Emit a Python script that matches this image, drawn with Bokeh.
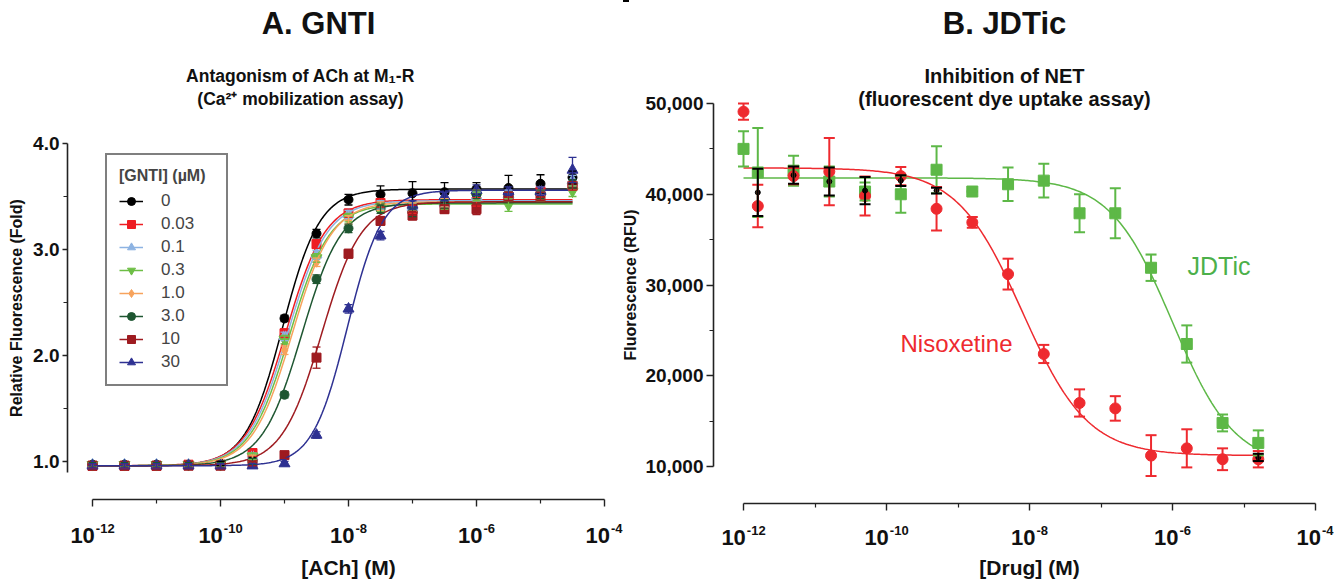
import numpy as np
from bokeh.plotting import figure
from bokeh.models import (Range1d, FixedTicker, CustomJSTickFormatter, NumeralTickFormatter,
                          PrintfTickFormatter, Label, Legend, LegendItem, Whisker,
                          ColumnDataSource, TeeHead)
from bokeh.layouts import row
from bokeh.embed import file_html
from bokeh.resources import INLINE

FONT = "Liberation Sans"

# ---------------- Panel A: GNTI antagonism of ACh ----------------
ach_log = [-12.0, -11.5, -11.0, -10.5, -10.0, -9.5, -9.0, -8.5, -8.0, -7.5,
           -7.0, -6.5, -6.0, -5.5, -5.0, -4.5]
gnti_labels = ["0", "0.03", "0.1", "0.3", "1.0", "3.0", "10", "30"]
gnti_colors = ["#000000", "#EE1D23", "#8DB3E2", "#6DBE45", "#F7A35C", "#1E5631", "#9E1B20", "#2E3192"]
gnti_markers = ["circle", "square", "triangle", "inverted_triangle", "diamond", "circle", "square", "triangle"]

resp_0 = [0.97, 0.97, 0.97, 0.97, 0.98, 1.02, 2.35, 3.15, 3.47, 3.52, 3.53, 3.54, 3.57, 3.58, 3.62, 3.68]
resp_003 = [0.96, 0.96, 0.96, 0.97, 0.97, 1.08, 2.21, 3.05, 3.34, 3.44, 3.38, 3.44, 3.45, 3.50, 3.55, 3.60]
resp_01 = [0.97, 0.97, 0.97, 0.97, 0.97, 1.05, 2.18, 2.95, 3.33, 3.42, 3.40, 3.44, 3.50, 3.52, 3.55, 3.65]
resp_03 = [0.97, 0.97, 0.97, 0.97, 0.97, 1.05, 2.15, 2.92, 3.30, 3.40, 3.40, 3.42, 3.50, 3.42, 3.50, 3.55]
resp_1 = [0.97, 0.97, 0.97, 0.97, 0.97, 1.03, 2.05, 2.88, 3.28, 3.41, 3.40, 3.44, 3.52, 3.50, 3.52, 3.60]
resp_3 = [0.97, 0.97, 0.97, 0.97, 0.97, 1.00, 1.63, 2.72, 3.20, 3.38, 3.35, 3.43, 3.52, 3.50, 3.52, 3.62]
resp_10 = [0.96, 0.96, 0.96, 0.96, 0.96, 0.98, 1.06, 1.98, 2.96, 3.27, 3.32, 3.38, 3.38, 3.50, 3.50, 3.60]
resp_30 = [0.96, 0.96, 0.96, 0.96, 0.96, 0.96, 0.98, 1.25, 2.44, 3.13, 3.42, 3.50, 3.56, 3.55, 3.55, 3.75]

err_0 = [0.02, 0.02, 0.02, 0.02, 0.02, 0.02, 0.03, 0.04, 0.05, 0.08, 0.11, 0.09, 0.06, 0.12, 0.085, 0.06]
err_003 = [0.02, 0.02, 0.02, 0.02, 0.02, 0.03, 0.04, 0.04, 0.04, 0.04, 0.04, 0.04, 0.04, 0.04, 0.04, 0.04]
err_01 = [0.02, 0.02, 0.02, 0.02, 0.02, 0.03, 0.04, 0.04, 0.04, 0.04, 0.04, 0.04, 0.04, 0.04, 0.04, 0.05]
err_03 = [0.02, 0.02, 0.02, 0.02, 0.02, 0.03, 0.04, 0.04, 0.04, 0.04, 0.04, 0.04, 0.04, 0.06, 0.04, 0.05]
err_1 = [0.02, 0.02, 0.02, 0.02, 0.02, 0.03, 0.04, 0.04, 0.04, 0.04, 0.04, 0.04, 0.04, 0.04, 0.04, 0.04]
err_3 = [0.02, 0.02, 0.02, 0.02, 0.02, 0.03, 0.03, 0.04, 0.04, 0.04, 0.04, 0.04, 0.04, 0.04, 0.04, 0.04]
err_10 = [0.02, 0.02, 0.02, 0.02, 0.02, 0.02, 0.03, 0.10, 0.04, 0.04, 0.04, 0.04, 0.05, 0.04, 0.04, 0.04]
err_30 = [0.02, 0.02, 0.02, 0.02, 0.02, 0.02, 0.02, 0.03, 0.04, 0.04, 0.04, 0.04, 0.05, 0.04, 0.04, 0.12]

gnti_resp = [resp_0, resp_003, resp_01, resp_03, resp_1, resp_3, resp_10, resp_30]
gnti_err = [err_0, err_003, err_01, err_03, err_1, err_3, err_10, err_30]

# fitted curve parameters
gnti_top = [3.57, 3.47, 3.46, 3.43, 3.45, 3.44, 3.45, 3.56]
gnti_bottom = [0.96, 0.96, 0.96, 0.96, 0.96, 0.96, 0.96, 0.96]
gnti_logec50 = [-9.03, -8.98, -8.95, -8.92, -8.88, -8.73, -8.42, -8.02]
gnti_hill = [1.5, 1.4, 1.4, 1.4, 1.4, 1.4, 1.4, 1.6]

# ---------------- Panel B: JDTic inhibition of NET ----------------
drug_log = [-12.0, -11.8, -11.3, -10.8, -10.3, -9.8, -9.3, -8.8, -8.3, -7.8,
            -7.3, -6.8, -6.3, -5.8, -5.3, -4.8]
nisox = [49100, 38700, 42000, 42500, 39800, 42000, 38400, 36900, 31200, 22400,
         17000, 16400, 11200, 12000, 10800, 10800]
nisox_err = [900, 2350, 900, 3700, 2150, 1000, 2400, 600, 1700, 1000,
             1500, 1350, 2250, 2100, 1200, 900]
jdtic = [45000, 42400, 42600, 41400, 40300, 40000, 42700, 40300, 41100, 41500,
         37900, 37900, 31900, 23500, 14800, 12600]
jdtic_err = [1950, 4900, 1650, 1650, 1000, 2050, 2600, 0, 1850, 1850,
             2100, 2750, 1450, 2050, 930, 1380]
ctrl = [np.nan, 40200, 42100, 41400, 40400, 41500, 40400, np.nan, np.nan, np.nan,
        np.nan, np.nan, np.nan, np.nan, np.nan, 11000]
ctrl_err = [np.nan, 2600, 950, 1550, 1500, 600, 330, np.nan, np.nan, np.nan,
            np.nan, np.nan, np.nan, np.nan, np.nan, 400]

nisox_fit = dict(top=42900, bottom=11200, logic50=-8.1, hill=0.95)
jdtic_fit = dict(top=41800, bottom=10000, logic50=-6.0, hill=1.0)

xtick_exps = [-12, -10, -8, -6, -4]

RED = "#EE2A2F"
GREEN = "#5DB847"
GREEN_TXT = "#4CB04A"
INK = "#111111"

# ---------------- layout (canvas pixels -> data) ----------------
W1, W2, H = 623, 711, 584
X0A, X0B, Y0 = 0, W1, 0


def ly(py):
    return 1.0 + (461 - py) / 106.0

def lx(px):
    return 10 ** (-12 + (px - 92) / 64.0)

def ry(py):
    return 50000 - (py - 103) * 10000 / 90.75

def rx(px):
    return 10 ** (-12 + (px - 743) / 71.5)


def sig(xlog, top, bottom, c, n):
    return bottom + (top - bottom) / (1 + 10 ** (n * (c - xlog)))


def inhib(xlog, f):
    return f["bottom"] + (f["top"] - f["bottom"]) / (1 + 10 ** (f["hill"] * (xlog - f["logic50"])))


def style_axes(p):
    for ax in (p.xaxis[0], p.yaxis[0]):
        ax.axis_line_width = 1.6
        ax.axis_line_color = "#222222"
        ax.major_tick_line_color = "#222222"
        ax.minor_tick_line_color = "#222222"
        ax.major_tick_line_width = 1.4
        ax.minor_tick_line_width = 1.2
        ax.major_tick_in = 0
        ax.minor_tick_in = 0
        ax.major_label_text_font = FONT
        ax.major_label_text_font_style = "bold"
        ax.major_label_text_color = INK
        ax.axis_label_text_font = FONT
        ax.axis_label_text_font_style = "bold"
        ax.axis_label_text_color = INK
    xa = p.xaxis[0]
    xa.axis_label = None
    xa.ticker = FixedTicker(ticks=[10.0 ** k for k in xtick_exps],
                            minor_ticks=[1e-11, 1e-9, 1e-7, 1e-5])
    xa.bounds = (1e-12, 1e-4)
    xa.major_tick_out = 7
    xa.minor_tick_out = 4
    xa.formatter = CustomJSTickFormatter(code="return '';")
    ya = p.yaxis[0]
    ya.minor_tick_out = 4
    ya.major_label_standoff = 3
    ya.major_label_text_font_size = "19px"
    ya.axis_label_text_font_size = "16px"


def text_w(s, size):
    widths = {"-": 0.333}
    return sum(widths.get(ch, 0.556) for ch in s) * size


def add_xlabels(p, xfun, yfun, base_py, tick_px, ppd, right_limit, title, title_px):
    for k in xtick_exps:
        sup = str(k)
        w10 = text_w("10", 22)
        total = w10 + 1 + text_w(sup, 13)
        tick = tick_px + (k + 12) * ppd
        left = tick - total / 2
        left -= max(0, left + total - right_limit)
        off = left - tick
        p.add_layout(Label(x=10.0 ** k, y=yfun(base_py), text="10", text_align="left",
                           text_baseline="alphabetic", x_offset=off, text_font=FONT,
                           text_font_size="22px", text_font_style="bold", text_color=INK))
        p.add_layout(Label(x=10.0 ** k, y=yfun(base_py - 7), text=sup, text_align="left",
                           text_baseline="alphabetic", x_offset=off + w10 + 1, text_font=FONT,
                           text_font_size="13px", text_font_style="bold", text_color=INK))
    p.add_layout(Label(x=xfun(title_px), y=yfun(567), text=title, text_align="center",
                       text_baseline="alphabetic", text_font=FONT, text_font_size="21px",
                       text_font_style="bold", text_color=INK))


# ================= Left figure =================
pA = figure(width=W1, height=H, x_axis_type="log", title=None,
            x_range=Range1d(lx(X0A), lx(X0A + W1)), y_range=Range1d(ly(Y0 + H), ly(Y0)),
            output_backend="svg", toolbar_location=None,
            min_border_left=0, min_border_right=0, min_border_top=0, min_border_bottom=0)
pA.outline_line_color = None
pA.grid.visible = False
style_axes(pA)
pA.xaxis[0].fixed_location = ly(499)
pA.yaxis[0].fixed_location = lx(67)
pA.yaxis[0].ticker = FixedTicker(ticks=[1, 2, 3, 4], minor_ticks=[1.5, 2.5, 3.5])
pA.yaxis[0].bounds = (0.9, 4.0)
pA.yaxis[0].major_tick_out = 5
pA.yaxis[0].formatter = PrintfTickFormatter(format="%.1f")
pA.yaxis[0].axis_label = "Relative Fluorescence (Fold)"
pA.yaxis[0].axis_label_standoff = 5

ach_conc = [10 ** v for v in ach_log]
xs_fit = np.linspace(-12, -4.5, 300)
legend_items = []
for i in range(len(gnti_labels)):
    c = gnti_colors[i]
    yfit = sig(xs_fit, gnti_top[i], gnti_bottom[i], gnti_logec50[i], gnti_hill[i])
    ln = pA.line(10 ** xs_fit, yfit, line_color=c, line_width=1.5)
    src = ColumnDataSource(dict(x=ach_conc, y=gnti_resp[i],
                                upper=[a + b for a, b in zip(gnti_resp[i], gnti_err[i])],
                                lower=[a - b for a, b in zip(gnti_resp[i], gnti_err[i])]))
    pA.add_layout(Whisker(source=src, base="x", upper="upper", lower="lower", line_color=c,
                          line_width=1.3,
                          upper_head=TeeHead(size=8, line_color=c, line_width=1.3),
                          lower_head=TeeHead(size=8, line_color=c, line_width=1.3), level="glyph"))
    mk = gnti_markers[i]
    sz = {"circle": 9, "square": 9, "triangle": 11, "inverted_triangle": 11, "diamond": 10}[mk]
    sc = pA.scatter("x", "y", source=src, marker=mk, size=sz, fill_color=c, line_color=c)
    legend_items.append(LegendItem(label=gnti_labels[i], renderers=[ln, sc]))

leg = Legend(items=legend_items, location=(105 - X0A, Y0 + H - 386), title="[GNTI] (µM)",
             title_text_font=FONT, title_text_font_style="bold", title_text_font_size="16px",
             label_text_font=FONT, label_text_font_size="17px",
             glyph_width=24, glyph_height=20, label_height=20, label_width=53, spacing=3,
             padding=12, label_standoff=18, title_standoff=6, margin=0,
             border_line_color="black", border_line_width=2.5, background_fill_alpha=1.0)
pA.add_layout(leg)

for txt, px, py, fs in [("A. GNTI", 318, 23, "31px"),
                        ("Antagonism of ACh at M₁-R", 300, 75, "17.5px"),
                        ("(Ca²⁺ mobilization assay)", 300, 98, "17.5px")]:
    pA.add_layout(Label(x=lx(px), y=ly(py), text=txt, text_align="center",
                        text_baseline="middle", text_font=FONT, text_font_size=fs,
                        text_font_style="bold", text_color=INK))
add_xlabels(pA, lx, ly, 535, 92, 64.0, X0A + W1 - 1, "[ACh] (M)", 348)

# ================= Right figure =================
pB = figure(width=W2, height=H, x_axis_type="log", title=None,
            x_range=Range1d(rx(X0B), rx(X0B + W2)), y_range=Range1d(ry(Y0 + H), ry(Y0)),
            output_backend="svg", toolbar_location=None,
            min_border_left=0, min_border_right=0, min_border_top=0, min_border_bottom=0)
pB.outline_line_color = None
pB.grid.visible = False
style_axes(pB)
pB.xaxis[0].fixed_location = ry(503)
pB.yaxis[0].fixed_location = rx(713)
pB.yaxis[0].ticker = FixedTicker(ticks=[10000, 20000, 30000, 40000, 50000],
                                 minor_ticks=[15000, 25000, 35000, 45000])
pB.yaxis[0].bounds = (10000, 50000)
pB.yaxis[0].major_tick_out = 7
pB.yaxis[0].formatter = NumeralTickFormatter(format="0,0")
pB.yaxis[0].axis_label = "Fluorescence (RFU)"
pB.yaxis[0].axis_label_standoff = 3

drug_conc = [10 ** v for v in drug_log]
xs_fit2 = np.linspace(-12, -4.8, 300)
pB.line(10 ** xs_fit2, inhib(xs_fit2, jdtic_fit), line_color=GREEN, line_width=1.5)
pB.line(10 ** xs_fit2, inhib(xs_fit2, nisox_fit), line_color=RED, line_width=1.5)

for vals, errs, col, mk, sz in [(jdtic, jdtic_err, GREEN, "square", 11),
                                 (nisox, nisox_err, RED, "circle", 11),
                                 (ctrl, ctrl_err, "#000000", "circle", 5)]:
    src = ColumnDataSource(dict(x=drug_conc, y=vals,
                                upper=[a + b for a, b in zip(vals, errs)],
                                lower=[a - b for a, b in zip(vals, errs)]))
    pB.add_layout(Whisker(source=src, base="x", upper="upper", lower="lower",
                          line_color=col, line_width=2,
                          upper_head=TeeHead(size=11, line_color=col, line_width=2),
                          lower_head=TeeHead(size=11, line_color=col, line_width=2),
                          level="glyph"))
    pB.scatter("x", "y", source=src, marker=mk, size=sz, fill_color=col, line_color=col)

pB.add_layout(Label(x=rx(900), y=ry(343), text="Nisoxetine", text_align="left",
                    text_baseline="middle", text_font=FONT, text_font_size="24px",
                    text_color=RED))
pB.add_layout(Label(x=rx(1187), y=ry(265), text="JDTic", text_align="left",
                    text_baseline="middle", text_font=FONT, text_font_size="25px",
                    text_color=GREEN_TXT))

for txt, py, fs in [("B. JDTic", 23, "31px"), ("Inhibition of NET", 75, "20px"),
                    ("(fluorescent dye uptake assay)", 98, "20px")]:
    pB.add_layout(Label(x=rx(1004), y=ry(py), text=txt, text_align="center",
                        text_baseline="middle", text_font=FONT, text_font_size=fs,
                        text_font_style="bold", text_color=INK))
add_xlabels(pB, rx, ry, 537, 743, 71.5, X0B + W2 - 1, "[Drug] (M)", 1029)

layout = row(pA, pB)
open("out.html", "w").write(file_html(layout, INLINE))
